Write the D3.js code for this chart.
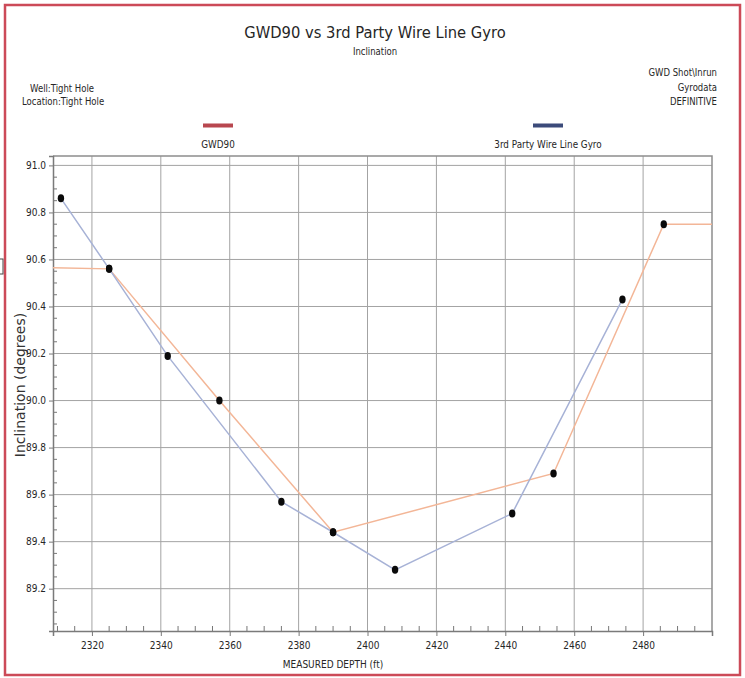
<!DOCTYPE html>
<html>
<head>
<meta charset="utf-8">
<script src="https://cdn.jsdelivr.net/npm/d3@7"></script>
<style>
  html, body { margin: 0; padding: 0; background: #fff; }
  svg { display: block; }
  .cond { font-family: "DejaVu Sans", sans-serif; fill: #262626; }
</style>
</head>
<body>
<svg id="chart" width="745" height="678"></svg>
<script>
// GWD90 survey (measured depth in ft, inclination in degrees)
const gwdDepth = [2290, 2325, 2357, 2390, 2454, 2486, 2520];
const gwdIncl  = [90.57, 90.56, 90.00, 89.44, 89.69, 90.75, 90.75];

// 3rd party wire line gyro survey
const gyroDepth = [2311, 2325, 2342, 2375, 2390, 2408, 2442, 2474];
const gyroIncl  = [90.86, 90.56, 90.19, 89.57, 89.44, 89.28, 89.52, 90.43];

const xTicks = [2320, 2340, 2360, 2380, 2400, 2420, 2440, 2460, 2480];
const yTicks = [89.2, 89.4, 89.6, 89.8, 90.0, 90.2, 90.4, 90.6, 90.8, 91.0];

const seriesNames = ["GWD90", "3rd Party Wire Line Gyro"];
const legendColors = ["#b8474f", "#3c4b7a"];
const lineColors = ["#f3b697", "#a7b2d6"];

const svg = d3.select("#chart");
const plot = { left: 53, right: 712, top: 156, bottom: 631 };

const x = d3.scaleLinear().domain([2308.7, 2500]).range([plot.left, plot.right]);
const y = d3.scaleLinear().domain([89.02, 91.04]).range([plot.bottom, plot.top]);

// narrow the condensed-style labels horizontally
function condense(sel, factor) {
  sel.each(function () {
    const w = this.getComputedTextLength();
    d3.select(this).attr("textLength", w * factor).attr("lengthAdjust", "spacingAndGlyphs");
  });
}

// outer red frame
svg.append("rect")
  .attr("x", 5).attr("y", 5).attr("width", 735).attr("height", 670)
  .attr("fill", "none").attr("stroke", "#cc4a58").attr("stroke-width", 2.5);

// headings
const title = svg.append("text").attr("class", "cond")
  .attr("x", 375).attr("y", 38).attr("text-anchor", "middle")
  .style("font-size", "16px").text("GWD90 vs 3rd Party Wire Line Gyro");
const subtitle = svg.append("text").attr("class", "cond")
  .attr("x", 375).attr("y", 55).attr("text-anchor", "middle")
  .style("font-size", "10px").text("Inclination");

const leftInfo = ["Well:Tight Hole", "Location:Tight Hole"];
const leftText = svg.selectAll("text.linfo").data(leftInfo).join("text")
  .attr("class", "cond linfo")
  .attr("x", (d, i) => i === 0 ? 30 : 22)
  .attr("y", (d, i) => 92 + i * 13)
  .style("font-size", "10px").text(d => d);

const rightInfo = ["GWD Shot\\Inrun", "Gyrodata", "DEFINITIVE"];
const rightText = svg.selectAll("text.rinfo").data(rightInfo).join("text")
  .attr("class", "cond rinfo")
  .attr("x", 717).attr("y", (d, i) => 76 + i * 14.5)
  .attr("text-anchor", "end")
  .style("font-size", "10px").text(d => d);

// legend
const legendX = [218, 548];
const legendText = [];
seriesNames.forEach((name, i) => {
  svg.append("rect")
    .attr("x", legendX[i] - 15).attr("y", 123.5).attr("width", 30).attr("height", 4)
    .attr("fill", legendColors[i]);
  legendText.push(svg.append("text").attr("class", "cond")
    .attr("x", legendX[i]).attr("y", 148).attr("text-anchor", "middle")
    .style("font-size", "10px").text(name));
});

// grid
const grid = svg.append("g").attr("stroke", "#a3a3a3").attr("stroke-width", 1);
grid.selectAll("line.vx").data(xTicks).join("line")
  .attr("x1", d => x(d)).attr("x2", d => x(d))
  .attr("y1", plot.top).attr("y2", plot.bottom);
grid.selectAll("line.hy").data(yTicks).join("line")
  .attr("y1", d => y(d)).attr("y2", d => y(d))
  .attr("x1", plot.left).attr("x2", plot.right);

// plot frame (top and right)
svg.append("path")
  .attr("d", `M${plot.left},${plot.top}H${plot.right}V${plot.bottom}`)
  .attr("fill", "none").attr("stroke", "#8d8d8d").attr("stroke-width", 1.5);

// minor ticks
const xMinor = d3.range(2310, 2500, 5).filter(v => v % 20 !== 0);
const yMinor = d3.range(89.05, 91.04, 0.05).filter(v => Math.abs(Math.round(v * 5) - v * 5) > 0.01);
svg.append("g").attr("stroke", "#777").attr("stroke-width", 1)
  .selectAll("line").data(xMinor).join("line")
  .attr("x1", d => x(d)).attr("x2", d => x(d))
  .attr("y1", plot.bottom).attr("y2", plot.bottom - 5);
svg.append("g").attr("stroke", "#777").attr("stroke-width", 1)
  .selectAll("line").data(yMinor).join("line")
  .attr("y1", d => y(d)).attr("y2", d => y(d))
  .attr("x1", plot.left).attr("x2", plot.left + 4);

// axes
const xAxis = svg.append("g")
  .attr("transform", `translate(0,${plot.bottom})`)
  .call(d3.axisBottom(x).tickValues(xTicks).tickFormat(d3.format("d")).tickSize(5).tickPadding(6));
const yAxis = svg.append("g")
  .attr("transform", `translate(${plot.left},0)`)
  .call(d3.axisLeft(y).tickValues(yTicks).tickFormat(d3.format(".1f")).tickSize(4).tickPadding(3));
[xAxis, yAxis].forEach(g => {
  g.select(".domain").attr("stroke", "#7a7a7a").attr("stroke-width", 1.5);
  g.selectAll(".tick line").attr("stroke", "#7a7a7a");
  g.selectAll(".tick text")
    .attr("class", "cond")
    .style("font-size", "10px");
  condense(g.selectAll(".tick text"), 0.9);
});

// axis titles
const xTitle = svg.append("text").attr("class", "cond")
  .attr("x", 333).attr("y", 668).attr("text-anchor", "middle")
  .style("font-size", "10px").text("MEASURED DEPTH (ft)");
svg.append("text")
  .attr("transform", "translate(25,385) rotate(-90)")
  .attr("text-anchor", "middle")
  .style("font-family", "DejaVu Sans, sans-serif")
  .style("font-size", "14px").attr("fill", "#333")
  .text("Inclination (degrees)");

condense(title, 0.92);
condense(subtitle, 0.85);
condense(leftText, 0.85);
condense(rightText, 0.85);
legendText.forEach(t => condense(t, 0.88));
condense(xTitle, 0.9);

// series
svg.append("clipPath").attr("id", "plotClip")
  .append("rect").attr("x", plot.left).attr("y", plot.top)
  .attr("width", plot.right - plot.left).attr("height", plot.bottom - plot.top);

const layer = svg.append("g").attr("clip-path", "url(#plotClip)");
const series = [
  { depth: gwdDepth, incl: gwdIncl },
  { depth: gyroDepth, incl: gyroIncl }
];
const line = d3.line().x(d => x(d[0])).y(d => y(d[1]));

series.forEach((s, i) => {
  const pts = s.depth.map((d, k) => [d, s.incl[k]]);
  layer.append("path").datum(pts)
    .attr("d", line).attr("fill", "none")
    .attr("stroke", lineColors[i]).attr("stroke-width", 1.5);
});
series.forEach(s => {
  const pts = s.depth.map((d, k) => [d, s.incl[k]]);
  layer.selectAll(null).data(pts).join("ellipse")
    .attr("cx", d => x(d[0])).attr("cy", d => y(d[1]))
    .attr("rx", 3.2).attr("ry", 4).attr("fill", "#0a0a0a");
});

// small bracket mark at the far left edge
svg.append("rect").attr("x", -2).attr("y", 259).attr("width", 5).attr("height", 15)
  .attr("fill", "none").attr("stroke", "#444").attr("stroke-width", 1);
</script>
</body>
</html>
